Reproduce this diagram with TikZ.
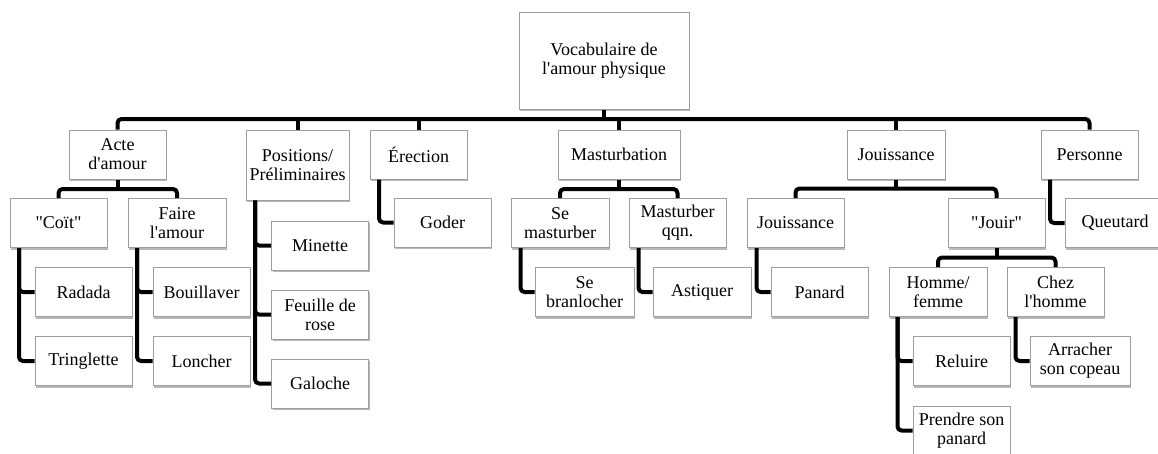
\documentclass[tikz,border=0pt]{standalone}
\usepackage{fontspec}
\setmainfont{Liberation Serif}
\usetikzlibrary{shadows}
\newcommand\myap{\textquotesingle}
\newcommand\mydq{\textquotedbl}
\begin{document}
\begin{tikzpicture}[x=1pt,y=-1pt,
  box/.style={draw=black!38, line width=1pt, fill=white, minimum width=97pt,
    minimum height=49pt, inner sep=0pt, align=center,
    font=\fontsize{18}{19}\selectfont,
    drop shadow={shadow xshift=1.2pt, shadow yshift=-2pt, fill=black, opacity=0.28}},
  conn/.style={line width=4pt, rounded corners=4pt, line join=round}]
\useasboundingbox (0,0) rectangle (1158,453);
% level 0
\node[box, minimum width=170pt, minimum height=97pt] (root) at (604,60.5) {Vocabulaire de\\l\myap amour physique};
% level 1
\node[box] (acte) at (117.5,154.5) {Acte\\d\myap amour};
\node[box, minimum width=103pt, minimum height=70pt] (pos) at (297.5,165) {Positions/\\Préliminaires};
\node[box] (ere) at (418.5,154.5) {Érection};
\node[box, minimum width=122pt] (mast) at (619,154.5) {Masturbation};
\node[box, minimum width=98pt] (jou) at (896,154.5) {Jouissance};
\node[box] (pers) at (1089.5,154.5) {Personne};
% level 2
\node[box] (coit) at (58.5,223) {\mydq Coït\mydq};
\node[box, minimum width=98pt] (faire) at (177,223) {Faire\\l\myap amour};
\node[box] (mini) at (320,245.5) {Minette};
\node[box] (feuil) at (320,314.5) {Feuille de\\rose};
\node[box] (galo) at (320,383.5) {Galoche};
\node[box] (goder) at (442.5,222.5) {Goder};
\node[box, minimum width=98pt] (sem) at (560,223) {Se\\masturber};
\node[box] (mqqn) at (677.5,223) {Masturber\\qqn.};
\node[box] (jou2) at (795.5,223) {Jouissance};
\node[box] (jouir) at (996.5,223) {\mydq Jouir\mydq};
\node[box, minimum width=100pt] (queu) at (1115,223) {Queutard};
% level 3
\node[box] (radada) at (83.5,292) {Radada};
\node[box] (tring) at (83.5,361) {Tringlette};
\node[box] (bouil) at (201.5,292) {Bouillaver};
\node[box] (lonch) at (201.5,361) {Loncher};
\node[box, minimum width=99pt] (sebr) at (584.5,292) {Se\\branlocher};
\node[box, minimum width=98pt] (asti) at (702,292) {Astiquer};
\node[box] (panard) at (819.5,292) {Panard};
\node[box, minimum width=98pt] (homme) at (938,292) {Homme/\\femme};
\node[box] (chez) at (1055.5,292) {Chez\\l\myap homme};
% level 4
\node[box] (reluire) at (961.5,361) {Reluire};
\node[box] (prendre) at (961.5,430.5) {Prendre son\\panard};
\node[box, minimum width=100pt] (arracher) at (1080,361) {Arracher\\son copeau};
% connectors: root
\coordinate (b0) at (604,119);
\draw[conn] (acte.north) |- (b0) -| (pers.north);
\draw[conn] (root.south) -- (b0);
\draw[conn] (pos.north) -- (pos.north |- b0);
\draw[conn] (ere.north) -- (ere.north |- b0);
\draw[conn] (mast.north) -- (mast.north |- b0);
\draw[conn] (jou.north) -- (jou.north |- b0);
% Acte d'amour
\coordinate (b1) at (117.5,189);
\draw[conn] (coit.north) |- (b1) -| (faire.north);
\draw[conn] (acte.south) -- (b1);
\draw[conn] ([xshift=9.5pt]coit.south west) |- (radada.west);
\draw[conn] ([xshift=9.5pt]coit.south west) |- (tring.west);
\draw[conn] ([xshift=9.5pt]faire.south west) |- (bouil.west);
\draw[conn] ([xshift=9.5pt]faire.south west) |- (lonch.west);
% Positions
\draw[conn] ([xshift=9.5pt]pos.south west) |- (mini.west);
\draw[conn] ([xshift=9.5pt]pos.south west) |- (feuil.west);
\draw[conn] ([xshift=9.5pt]pos.south west) |- (galo.west);
% Erection
\draw[conn] ([xshift=9.5pt]ere.south west) |- (goder.west);
% Masturbation
\coordinate (b2) at (619,189);
\draw[conn] (sem.north) |- (b2) -| (mqqn.north);
\draw[conn] (mast.south) -- (b2);
\draw[conn] ([xshift=10pt]sem.south west) |- (sebr.west);
\draw[conn] ([xshift=10pt]mqqn.south west) |- (asti.west);
% Jouissance
\coordinate (b3) at (896,188.5);
\draw[conn] (jou2.north) |- (b3) -| (jouir.north);
\draw[conn] (jou.south) -- (b3);
\draw[conn] ([xshift=10pt]jou2.south west) |- (panard.west);
\coordinate (b4) at (996.5,257.5);
\draw[conn] (homme.north) |- (b4) -| (chez.north);
\draw[conn] (jouir.south) -- (b4);
\draw[conn] ([xshift=9pt]homme.south west) |- (reluire.west);
\draw[conn] ([xshift=9pt]homme.south west) |- (prendre.west);
\draw[conn] ([xshift=9pt]chez.south west) |- (arracher.west);
% Personne
\draw[conn] ([xshift=9.5pt]pers.south west) |- (queu.west);
\end{tikzpicture}
\end{document}
